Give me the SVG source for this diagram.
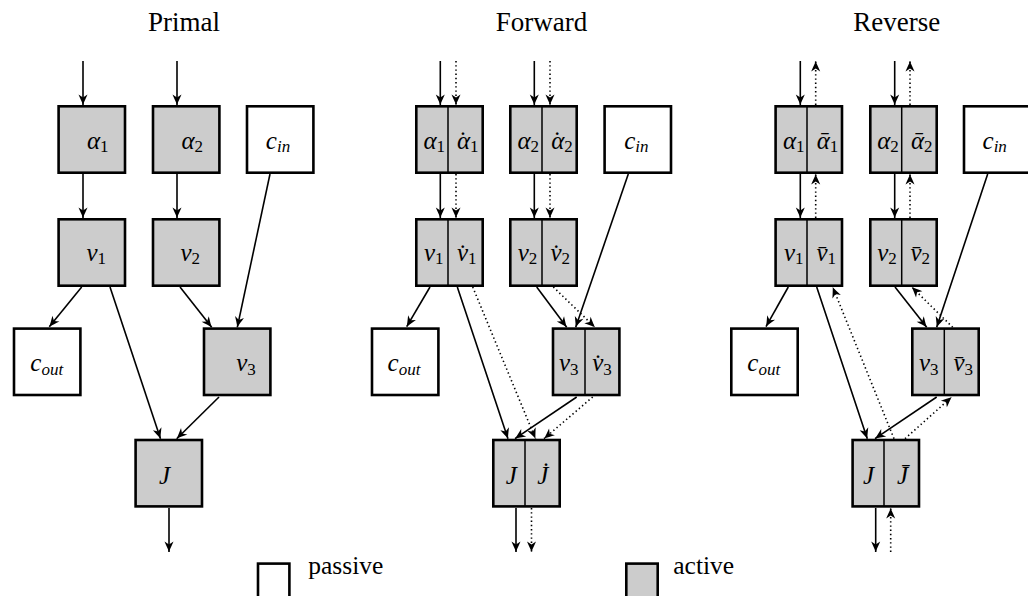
<svg xmlns="http://www.w3.org/2000/svg" width="1028" height="596" viewBox="0 0 1028 596">
  <defs>
    <marker id="ah" markerUnits="userSpaceOnUse" markerWidth="14" markerHeight="12" viewBox="-12 -6 14 12" refX="0" refY="0" orient="auto">
      <path d="M0,0 C-3,-1 -7,-3 -10.5,-4.5 L-7.5,0 L-10.5,4.5 C-7,3 -3,1 0,0 Z" fill="#000"/>
    </marker>
    <style>
      .box { stroke:#000; stroke-width:2.6; }
      .act { fill:#cccccc; }
      .pas { fill:#ffffff; }
      .div { stroke:#000; stroke-width:1.5; }
      .e { stroke:#000; stroke-width:1.6; fill:none; marker-end:url(#ah); }
      .d { stroke-dasharray:1.4 2.8; }
      .lbl { font-family:"Liberation Serif", serif; font-style:italic; font-size:25px; text-anchor:middle; fill:#000; }
      .sub { font-size:17px; }
      .num { font-style:normal; }
      .acc { font-style:normal; font-size:25px; }
      .title { font-family:"Liberation Serif", serif; font-size:27px; text-anchor:middle; fill:#000; }
      .leg { font-family:"Liberation Serif", serif; font-size:25.5px; fill:#000; }
    </style>
  </defs>
  <rect width="1028" height="596" fill="#fff"/>

  <!-- panel titles -->
  <text class="title" x="184" y="30.7">Primal</text>
  <text class="title" x="541.5" y="30.7">Forward</text>
  <text class="title" x="896.7" y="30.7">Reverse</text>

  <!-- connectors -->
  <g id="connectors">
    <!-- primal -->
    <line class="e" x1="83" y1="61" x2="83" y2="105"/>
    <line class="e" x1="177" y1="61" x2="177" y2="105"/>
    <line class="e" x1="83" y1="174" x2="83" y2="218"/>
    <line class="e" x1="177" y1="174" x2="177" y2="218"/>
    <line class="e" x1="270" y1="174" x2="237.3" y2="327.3"/>
    <line class="e" x1="81.7" y1="287" x2="49.3" y2="326.7"/>
    <line class="e" x1="110" y1="287" x2="160.5" y2="438.7"/>
    <line class="e" x1="180" y1="287" x2="211.7" y2="327.3"/>
    <line class="e" x1="219" y1="397" x2="176.7" y2="438.7"/>
    <line class="e" x1="169" y1="508" x2="169" y2="552"/>

    <!-- forward -->
    <line class="e" x1="440.3" y1="61" x2="440.3" y2="105"/>
    <line class="e d" x1="456" y1="61" x2="456" y2="105"/>
    <line class="e" x1="534.3" y1="61" x2="534.3" y2="105"/>
    <line class="e d" x1="550" y1="61" x2="550" y2="105"/>
    <line class="e" x1="440.3" y1="174" x2="440.3" y2="218"/>
    <line class="e d" x1="456" y1="174" x2="456" y2="218"/>
    <line class="e" x1="534.3" y1="174" x2="534.3" y2="218"/>
    <line class="e d" x1="550" y1="174" x2="550" y2="218"/>
    <line class="e" x1="628.3" y1="174" x2="575.7" y2="327.3"/>
    <line class="e" x1="430" y1="287" x2="406.7" y2="326.7"/>
    <line class="e" x1="457.3" y1="287" x2="508" y2="438.7"/>
    <line class="e d" x1="472.7" y1="287" x2="535.5" y2="438.7"/>
    <line class="e" x1="536.7" y1="287" x2="566.7" y2="327.3"/>
    <line class="e d" x1="553.3" y1="287" x2="595" y2="327.3"/>
    <line class="e" x1="576.7" y1="397" x2="515" y2="438.7"/>
    <line class="e d" x1="592.7" y1="397" x2="544" y2="438.7"/>
    <line class="e" x1="516" y1="508" x2="516" y2="552"/>
    <line class="e d" x1="531.5" y1="508" x2="531.5" y2="552"/>

    <!-- reverse -->
    <line class="e" x1="800.3" y1="61" x2="800.3" y2="105"/>
    <line class="e d" x1="815.7" y1="105" x2="815.7" y2="61"/>
    <line class="e" x1="894.7" y1="61" x2="894.7" y2="105"/>
    <line class="e d" x1="910" y1="105" x2="910" y2="61"/>
    <line class="e" x1="800.3" y1="174" x2="800.3" y2="218"/>
    <line class="e d" x1="815.7" y1="218" x2="815.7" y2="174"/>
    <line class="e" x1="894.7" y1="174" x2="894.7" y2="218"/>
    <line class="e d" x1="910" y1="218" x2="910" y2="174"/>
    <line class="e" x1="987.7" y1="174" x2="936.7" y2="327.3"/>
    <line class="e" x1="788.3" y1="287" x2="766" y2="326.7"/>
    <line class="e" x1="816.7" y1="287" x2="867.3" y2="438.7"/>
    <line class="e d" x1="894" y1="438.7" x2="832.7" y2="287"/>
    <line class="e" x1="895" y1="287" x2="926.7" y2="327.3"/>
    <line class="e d" x1="952.7" y1="327.3" x2="911.7" y2="287"/>
    <line class="e" x1="936.7" y1="397" x2="875" y2="438.7"/>
    <line class="e d" x1="905" y1="438.7" x2="951.7" y2="397"/>
    <line class="e" x1="875.7" y1="508" x2="875.7" y2="552"/>
    <line class="e d" x1="890.7" y1="552" x2="890.7" y2="508"/>
  </g>

  <!-- primal nodes -->
  <g id="p-alpha1"><rect class="box act" x="58.6" y="106.3" width="66.4" height="66.4"/>
    <text class="lbl" x="97.8" y="148.5">α<tspan class="sub num" dy="3.5">1</tspan></text></g>
  <g id="p-alpha2"><rect class="box act" x="153" y="106.3" width="66.4" height="66.4"/>
    <text class="lbl" x="192.2" y="148.5">α<tspan class="sub num" dy="3.5">2</tspan></text></g>
  <g id="p-cin"><rect class="box pas" x="247" y="106.3" width="66.4" height="66.4"/>
    <text class="lbl" x="278" y="148.5">c<tspan class="sub" dy="3.5">in</tspan></text></g>
  <g id="p-v1"><rect class="box act" x="58.6" y="219.3" width="66.4" height="66.4"/>
    <text class="lbl" x="96.3" y="260.5">v<tspan class="sub num" dy="3.5">1</tspan></text></g>
  <g id="p-v2"><rect class="box act" x="153" y="219.3" width="66.4" height="66.4"/>
    <text class="lbl" x="190.3" y="260.5">v<tspan class="sub num" dy="3.5">2</tspan></text></g>
  <g id="p-cout"><rect class="box pas" x="14" y="328.6" width="66.4" height="66.4"/>
    <text class="lbl" x="46.7" y="371">c<tspan class="sub" dy="3.5">out</tspan></text></g>
  <g id="p-v3"><rect class="box act" x="204" y="328.6" width="66.4" height="66.4"/>
    <text class="lbl" x="246" y="371">v<tspan class="sub num" dy="3.5">3</tspan></text></g>
  <g id="p-J"><rect class="box act" x="135.6" y="440" width="66.4" height="66.4"/>
    <text class="lbl" x="164.5" y="484">J</text></g>

  <!-- forward nodes -->
  <g id="f-alpha1"><rect class="box act" x="416.3" y="106.3" width="66.4" height="66.4"/>
    <line class="div" x1="448" y1="106.3" x2="448" y2="172.7"/>
    <text class="lbl" x="434.2" y="148.5">α<tspan class="sub num" dy="3.5">1</tspan></text>
    <text class="lbl" x="467.7" y="148.5">α<tspan class="acc" dx="-11.3">˙</tspan><tspan class="sub num" dx="2.97" dy="3.5">1</tspan></text></g>
  <g id="f-alpha2"><rect class="box act" x="510.3" y="106.3" width="66.4" height="66.4"/>
    <line class="div" x1="542" y1="106.3" x2="542" y2="172.7"/>
    <text class="lbl" x="528.3" y="148.5">α<tspan class="sub num" dy="3.5">2</tspan></text>
    <text class="lbl" x="562" y="148.5">α<tspan class="acc" dx="-11.3">˙</tspan><tspan class="sub num" dx="2.97" dy="3.5">2</tspan></text></g>
  <g id="f-cin"><rect class="box pas" x="604.6" y="106.3" width="66.4" height="66.4"/>
    <text class="lbl" x="636.3" y="148.5">c<tspan class="sub" dy="3.5">in</tspan></text></g>
  <g id="f-v1"><rect class="box act" x="416.3" y="219.3" width="66.4" height="66.4"/>
    <line class="div" x1="448" y1="219.3" x2="448" y2="285.7"/>
    <text class="lbl" x="433.7" y="260.5">v<tspan class="sub num" dy="3.5">1</tspan></text>
    <text class="lbl" x="466.7" y="260.5">v&#x307;<tspan class="sub num" dy="3.5">1</tspan></text></g>
  <g id="f-v2"><rect class="box act" x="510.3" y="219.3" width="66.4" height="66.4"/>
    <line class="div" x1="542" y1="219.3" x2="542" y2="285.7"/>
    <text class="lbl" x="527.5" y="260.5">v<tspan class="sub num" dy="3.5">2</tspan></text>
    <text class="lbl" x="560.3" y="260.5">v&#x307;<tspan class="sub num" dy="3.5">2</tspan></text></g>
  <g id="f-cout"><rect class="box pas" x="372" y="328.6" width="66.4" height="66.4"/>
    <text class="lbl" x="404" y="371">c<tspan class="sub" dy="3.5">out</tspan></text></g>
  <g id="f-v3"><rect class="box act" x="553" y="328.6" width="66.4" height="66.4"/>
    <line class="div" x1="585" y1="328.6" x2="585" y2="395"/>
    <text class="lbl" x="568.7" y="371">v<tspan class="sub num" dy="3.5">3</tspan></text>
    <text class="lbl" x="602" y="371">v&#x307;<tspan class="sub num" dy="3.5">3</tspan></text></g>
  <g id="f-J"><rect class="box act" x="493.3" y="440" width="66.4" height="66.4"/>
    <line class="div" x1="525" y1="440" x2="525" y2="506.4"/>
    <text class="lbl" x="511.2" y="484">J</text>
    <text class="lbl" x="542.7" y="484">J&#x307;</text></g>

  <!-- reverse nodes -->
  <g id="r-alpha1"><rect class="box act" x="775.6" y="106.3" width="66.4" height="66.4"/>
    <line class="div" x1="807" y1="106.3" x2="807" y2="172.7"/>
    <text class="lbl" x="793.7" y="148.5">α<tspan class="sub num" dy="3.5">1</tspan></text>
    <text class="lbl" x="827.5" y="148.5">α&#x304;<tspan class="sub num" dy="3.5">1</tspan></text></g>
  <g id="r-alpha2"><rect class="box act" x="870.3" y="106.3" width="66.4" height="66.4"/>
    <line class="div" x1="901.7" y1="106.3" x2="901.7" y2="172.7"/>
    <text class="lbl" x="888" y="148.5">α<tspan class="sub num" dy="3.5">2</tspan></text>
    <text class="lbl" x="921.7" y="148.5">α&#x304;<tspan class="sub num" dy="3.5">2</tspan></text></g>
  <g id="r-cin"><rect class="box pas" x="964" y="106.3" width="66.4" height="66.4"/>
    <text class="lbl" x="994.7" y="148.5">c<tspan class="sub" dy="3.5">in</tspan></text></g>
  <g id="r-v1"><rect class="box act" x="775.6" y="219.3" width="66.4" height="66.4"/>
    <line class="div" x1="807" y1="219.3" x2="807" y2="285.7"/>
    <text class="lbl" x="793.7" y="260.5">v<tspan class="sub num" dy="3.5">1</tspan></text>
    <text class="lbl" x="826.2" y="260.5">v&#x304;<tspan class="sub num" dy="3.5">1</tspan></text></g>
  <g id="r-v2"><rect class="box act" x="870.3" y="219.3" width="66.4" height="66.4"/>
    <line class="div" x1="901.7" y1="219.3" x2="901.7" y2="285.7"/>
    <text class="lbl" x="887" y="260.5">v<tspan class="sub num" dy="3.5">2</tspan></text>
    <text class="lbl" x="920.3" y="260.5">v&#x304;<tspan class="sub num" dy="3.5">2</tspan></text></g>
  <g id="r-cout"><rect class="box pas" x="731.3" y="328.6" width="66.4" height="66.4"/>
    <text class="lbl" x="763.7" y="371">c<tspan class="sub" dy="3.5">out</tspan></text></g>
  <g id="r-v3"><rect class="box act" x="912.3" y="328.6" width="66.4" height="66.4"/>
    <line class="div" x1="944.3" y1="328.6" x2="944.3" y2="395"/>
    <text class="lbl" x="928.7" y="371">v<tspan class="sub num" dy="3.5">3</tspan></text>
    <text class="lbl" x="963.3" y="371">v&#x304;<tspan class="sub num" dy="3.5">3</tspan></text></g>
  <g id="r-J"><rect class="box act" x="852.6" y="440" width="66.4" height="66.4"/>
    <line class="div" x1="884" y1="440" x2="884" y2="506.4"/>
    <text class="lbl" x="868.5" y="484">J</text>
    <text class="lbl" x="902.5" y="484">J&#x304;</text></g>

  <!-- legend -->
  <g id="legend-passive"><rect class="box pas" x="258" y="563.6" width="31.4" height="40"/>
    <text class="leg" x="308.3" y="574.3">passive</text></g>
  <g id="legend-active"><rect class="box act" x="626.3" y="563.6" width="31.4" height="40"/>
    <text class="leg" x="673.3" y="574.3">active</text></g>
</svg>
